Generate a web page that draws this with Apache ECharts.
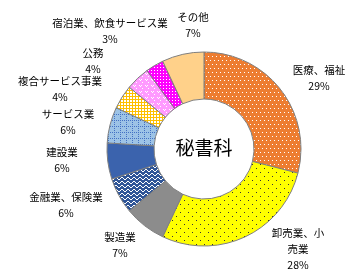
<!DOCTYPE html>
<html><head><meta charset="utf-8">
<script src="https://cdn.jsdelivr.net/npm/echarts@6/dist/echarts.min.js"></script>
<style>html,body{margin:0;padding:0;background:#fff}#c{width:359px;height:279px}</style>
</head><body><div id="c"></div>
<script>
// ---- data ----
const categories = ['医療、福祉','卸売業、小売業','製造業','金融業、保険業','建設業','サービス業','複合サービス事業','公務','宿泊業、飲食サービス業','その他'];
const labelNames = ['医療、福祉','卸売業、小\n売業','製造業','金融業、保険業','建設業','サービス業','複合サービス事業','公務','宿泊業、飲食サービス業','その他'];
const values = [29,28,7,6,6,6,4,4,3,7];
const centerTitle = '秘書科';

// ---- layout (label block centres, px) ----
const labelXY = [[319,78],[298,249],[120,245],[66,205],[62,160],[68,122],[60,89],[93,61],[110,31],[193,25]];

function pat(w,h,bg,draw){
  const c=document.createElement('canvas');c.width=w;c.height=h;
  const g=c.getContext('2d');g.fillStyle=bg;g.fillRect(0,0,w,h);draw(g);
  return {image:c,repeat:'repeat'};
}
const px=(g,col,pts)=>{g.fillStyle=col;pts.forEach(p=>g.fillRect(p[0],p[1],p[2]||1,p[3]||1));};
const colors=[
  pat(4,8,'#ED7D31',g=>px(g,'#fff',[[0,0],[2,4]])),
  pat(8,8,'#FFFF00',g=>px(g,'#333',[[0,0],[4,4]])),
  '#8C8C8C',
  pat(6,4,'#2F5597',g=>px(g,'#fff',[[0,2],[1,1],[2,1],[3,2],[4,3],[5,3]])),
  '#3B63AD',
  pat(6,6,'#9DC3E6',g=>px(g,'#4472C4',[[0,0],[0,2],[0,4],[2,0],[4,0]])),
  pat(3,3,'#FFC000',g=>px(g,'#fff',[[1,1,2,2]])),
  pat(6,6,'#FF99FF',g=>px(g,'#fff',[[1,1],[3,1],[2,2],[4,4]])),
  pat(3,3,'#FF00FF',g=>px(g,'#fff',[[1,1]])),
  '#FFD18A'
];

const chart=echarts.init(document.getElementById('c'),null,{renderer:'canvas'});
chart.setOption({
  animation:false,
  graphic:[{type:'text',x:204,y:148,style:{text:centerTitle,fill:'#000',font:'19px "Noto Sans CJK JP"',textAlign:'center',textVerticalAlign:'middle'}}],
  series:[{
    type:'pie',center:[204,149],radius:[50,97],startAngle:90,clockwise:true,
    data:categories.map((n,i)=>({name:n,value:values[i],itemStyle:{color:colors[i]}})),
    itemStyle:{borderColor:'#7F7F7F',borderWidth:1},
    label:{show:true,position:'outside',color:'#000',fontFamily:'Noto Sans CJK JP',fontSize:10.5,lineHeight:16,align:'center',
      overflow:'none',width:200,
      formatter:p=>labelNames[p.dataIndex]+'\n'+values[p.dataIndex]+'%'},
    labelLine:{show:false},
    labelLayout:p=>{const xy=labelXY[p.dataIndex];return {x:xy[0],y:xy[1],align:'center',verticalAlign:'middle'};}
  }]
});
</script></body></html>
